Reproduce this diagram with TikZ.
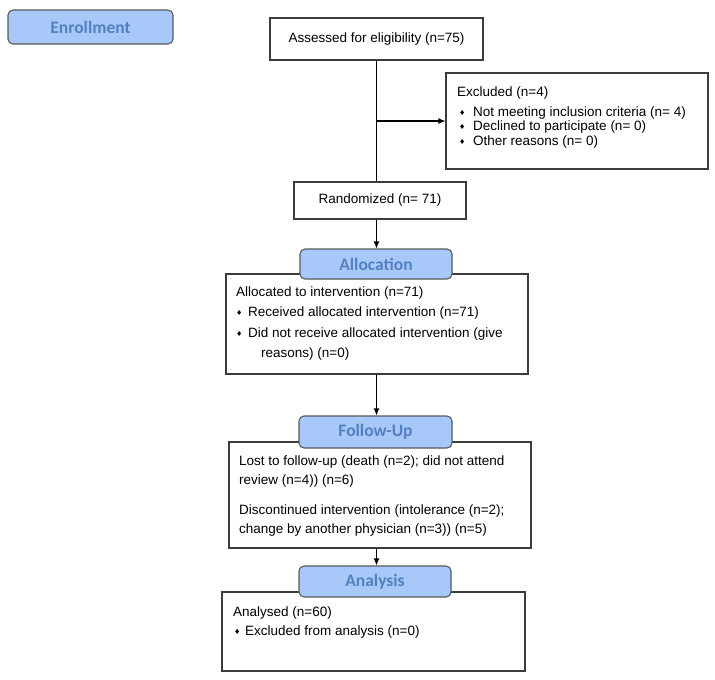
\documentclass[tikz,border=0pt]{standalone}
\usepackage{fontspec}
\setmainfont{Liberation Sans}
\newfontfamily\dejavu{DejaVu Sans}
\newfontfamily\headfont{Carlito}
\usetikzlibrary{arrows.meta}
\definecolor{tabfill}{RGB}{168,200,250}
\definecolor{tabtext}{RGB}{82,128,192}
\definecolor{boxline}{RGB}{60,60,60}
\newcommand\bul{{\dejavu\fontsize{7}{7}\selectfont\raisebox{1pt}{♦}}}
\tikzset{
  box/.style={draw=boxline,line width=1.1pt,inner sep=0pt,fill=white},
  tab/.style={draw=boxline!85,line width=1.1pt,rounded corners=5pt,fill=tabfill,inner sep=0pt,
    font=\headfont\bfseries\fontsize{17.5}{18}\selectfont,text=tabtext},
  txt/.style={anchor=base west,inner sep=0pt,font=\fontsize{13.5}{15}\selectfont},
  ctxt/.style={font=\fontsize{13.5}{15}\selectfont},
  arr/.style={draw=black,line width=1.1pt,-{Latex[length=7pt,width=6pt]}},
  ln/.style={draw=black,line width=1.1pt}
}
\begin{document}
\begin{tikzpicture}[x=1pt,y=-1pt]
\useasboundingbox (0,0) rectangle (715,680);
% Enrollment
\node[tab,minimum width=165pt,minimum height=34pt] (enroll) at (90.5,27) {Enrollment};
% boxes
\node[box,ctxt,minimum width=213pt,minimum height=42pt] (assess) at (376.5,39) {Assessed for eligibility (n=75)};
\node[box,minimum width=262pt,minimum height=96pt] (excl) at (577,121) {};
\node[box,ctxt,minimum width=172pt,minimum height=37pt] (rand) at (380,200.5) {Randomized (n= 71)};
\node[box,minimum width=302pt,minimum height=100pt] (abox) at (377,324) {};
\node[tab,minimum width=152pt,minimum height=30pt] (atab) at (376,264) {Allocation};
\node[box,minimum width=302pt,minimum height=106pt] (fbox) at (380,495) {};
\node[tab,minimum width=153pt,minimum height=32pt] (ftab) at (375.5,432) {Follow-Up};
\node[box,minimum width=303pt,minimum height=79pt] (nbox) at (373.5,631.5) {};
\node[tab,minimum width=152pt,minimum height=31pt] (ntab) at (375,581.5) {Analysis};
% excluded text
\node[txt] (ex1) at (457,96.5) {Excluded (n=4)};
\node[txt] (ex2) at (459,116.5) {\makebox[14pt][l]{\bul}Not meeting inclusion criteria (n= 4)};
\node[txt] (ex3) at (459,130) {\makebox[14pt][l]{\bul}Declined to participate (n= 0)};
\node[txt] (ex4) at (459,145) {\makebox[14pt][l]{\bul}Other reasons (n= 0)};
% allocation text
\node[txt] (al1) at (236,296.5) {Allocated to intervention (n=71)};
\node[txt] (al2) at (236,316.5) {\makebox[12pt][l]{\bul}Received allocated intervention (n=71)};
\node[txt] (al3) at (236,337) {\makebox[12pt][l]{\bul}Did not receive allocated intervention (give};
\node[txt] (al4) at (261,357) {reasons) (n=0)};
% follow-up text
\node[txt] (fu1) at (239,465.5) {Lost to follow-up (death (n=2); did not attend};
\node[txt] (fu2) at (239,484) {review (n=4)) (n=6)};
\node[txt] (fu3) at (239,514.5) {Discontinued intervention (intolerance (n=2);};
\node[txt] (fu4) at (239,533.5) {change by another physician (n=3)) (n=5)};
% analysis text
\node[txt] (an1) at (233,616.5) {Analysed (n=60)};
\node[txt] (an2) at (234,635.5) {\makebox[11pt][l]{\bul}Excluded from analysis (n=0)};
% connectors
\coordinate (split) at (assess.south |- excl.west);
\draw[ln] (assess.south) -- (assess.south |- rand.north);
\draw[arr] (split) -- (excl.west);
\draw[arr] (assess.south |- rand.south) -- (assess.south |- atab.north);
\draw[arr] (assess.south |- abox.south) -- (assess.south |- ftab.north);
\draw[arr] (assess.south |- fbox.south) -- (assess.south |- ntab.north);
\end{tikzpicture}
\end{document}
